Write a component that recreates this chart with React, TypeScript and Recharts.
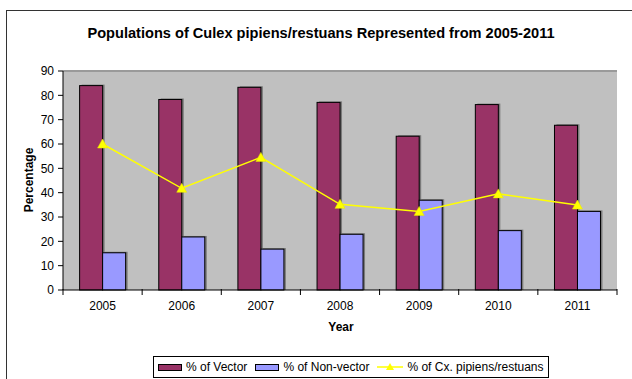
import React from 'react';
import { ComposedChart, Bar, Line, XAxis, YAxis, CartesianGrid, ReferenceLine } from 'recharts';

const years = ['2005', '2006', '2007', '2008', '2009', '2010', '2011'];
const vectorPct = [84, 78.3, 83.3, 77.1, 63.2, 76.2, 67.7];
const nonVectorPct = [15.3, 21.8, 16.8, 22.9, 36.9, 24.4, 32.3];
const pipiensPct = [60, 41.8, 54.5, 35.2, 32.3, 39.5, 34.9];
const yTicks = [0, 10, 20, 30, 40, 50, 60, 70, 80, 90];

const data = years.map((year, i) => ({
  year,
  vector: vectorPct[i],
  nonVector: nonVectorPct[i],
  pipiens: pipiensPct[i],
}));

const FONT = '"Liberation Sans", Arial, sans-serif';
const CHART_W = 632;
const CHART_H = 379;
const X_AXIS_H = 30;
const MARGIN = { top: 71, right: 15, left: 0, bottom: 89 - X_AXIS_H };
const Y_AXIS_W = 63;
const BAND = (CHART_W - MARGIN.left - MARGIN.right - Y_AXIS_W) / years.length;

// bar with a flat grey drop shadow, Excel 2003 style
const ShadowBar = (props: any) => {
  const { x, y, width, height, fill } = props;
  if (!height || height <= 0) return null;
  return (
    <g>
      <rect x={x + 2} y={y - 1} width={width} height={height + 1} fill="#7a7a7a" />
      <rect x={x} y={y} width={width} height={height} fill={fill} stroke="#000" strokeWidth={1} />
    </g>
  );
};

const TriangleDot = (props: any) => {
  const { cx, cy } = props;
  if (cx == null || cy == null) return null;
  return <polygon points={`${cx},${cy - 5} ${cx - 5},${cy + 4} ${cx + 5},${cy + 4}`} fill="#FFFF00" stroke="#E6E600" strokeWidth={0.5} />;
};

// category label with tick marks on the band boundaries
const YearTick = (props: any) => {
  const { x, y, payload, index } = props;
  const last = index === years.length - 1;
  return (
    <g>
      <line x1={x - BAND / 2} x2={x - BAND / 2} y1={y - 9} y2={y - 3} stroke="#000" />
      {last && <line x1={x + BAND / 2} x2={x + BAND / 2} y1={y - 9} y2={y - 3} stroke="#000" />}
      <text x={x} y={y + 12} textAnchor="middle" fontSize={12} fontFamily={FONT} fill="#000">
        {payload.value}
      </text>
    </g>
  );
};

const LegendBox = () => (
  <div
    style={{
      position: 'absolute',
      left: 153,
      top: 356,
      border: '1px solid #000',
      background: '#fff',
      display: 'flex',
      alignItems: 'center',
      gap: 4,
      padding: '3px 4px',
      fontFamily: FONT,
      fontSize: 12,
      color: '#000',
      whiteSpace: 'nowrap',
    }}
  >
    <span style={{ display: 'inline-block', width: 22, height: 5, background: '#993366', border: '1px solid #000' }} />
    <span style={{ marginRight: 4 }}>% of Vector</span>
    <span style={{ display: 'inline-block', width: 22, height: 5, background: '#9999FF', border: '1px solid #000' }} />
    <span style={{ marginRight: 4 }}>% of Non-vector</span>
    <svg width={26} height={10}>
      <line x1={0} x2={26} y1={5} y2={5} stroke="#FFFF00" strokeWidth={1.5} />
      <polygon points="13,1 9,8 17,8" fill="#FFFF00" />
    </svg>
    <span>% of Cx. pipiens/restuans</span>
  </div>
);

export default function App() {
  return (
    <div style={{ position: 'absolute', left: 0, top: 0, width: CHART_W, height: CHART_H, overflow: 'hidden', background: '#fff' }}>
      <div
        style={{
          position: 'absolute',
          top: 25,
          left: 0,
          width: 642,
          textAlign: 'center',
          fontFamily: FONT,
          fontWeight: 'bold',
          fontSize: 14.6,
        }}
      >
        Populations of Culex pipiens/restuans Represented from 2005-2011
      </div>
      <div style={{ position: 'absolute', top: 320, left: 63, width: 556, textAlign: 'center', fontFamily: FONT, fontWeight: 'bold', fontSize: 12 }}>
        Year
      </div>
      <div
        style={{
          position: 'absolute',
          left: 29,
          top: 180,
          transform: 'translate(-50%, -50%) rotate(-90deg)',
          fontFamily: FONT,
          fontWeight: 'bold',
          fontSize: 12,
        }}
      >
        Percentage
      </div>
      <div style={{ position: 'absolute', left: 0, top: 0 }}>
        <ComposedChart width={CHART_W} height={CHART_H} data={data} margin={MARGIN} barCategoryGap="21%" barGap={0}>
          <CartesianGrid horizontal={false} vertical={false} fill="#C0C0C0" />
          <ReferenceLine y={90} stroke="#9a9a9a" strokeWidth={2} />
          <XAxis
            dataKey="year"
            height={X_AXIS_H}
            tickLine={false}
            axisLine={{ stroke: '#000' }}
            tick={<YearTick />}
            interval={0}
          />
          <YAxis
            width={Y_AXIS_W}
            domain={[0, 90]}
            ticks={yTicks}
            axisLine={{ stroke: '#000' }}
            tickLine={{ stroke: '#000' }}
            tickSize={5}
            tickMargin={4}
            tick={{ fontSize: 12, fontFamily: FONT, fill: '#000' }}
          />
          <Bar dataKey="vector" fill="#993366" shape={<ShadowBar />} isAnimationActive={false} />
          <Bar dataKey="nonVector" fill="#9999FF" shape={<ShadowBar />} isAnimationActive={false} />
          <Line
            dataKey="pipiens"
            stroke="#FFFF00"
            strokeWidth={1.5}
            dot={<TriangleDot />}
            activeDot={false}
            isAnimationActive={false}
          />
        </ComposedChart>
      </div>
      <LegendBox />
      <div
        style={{
          position: 'absolute',
          left: 6,
          top: 10,
          width: 700,
          height: 500,
          borderLeft: '1px solid #333',
          borderTop: '1px solid #333',
          pointerEvents: 'none',
        }}
      />
    </div>
  );
}
